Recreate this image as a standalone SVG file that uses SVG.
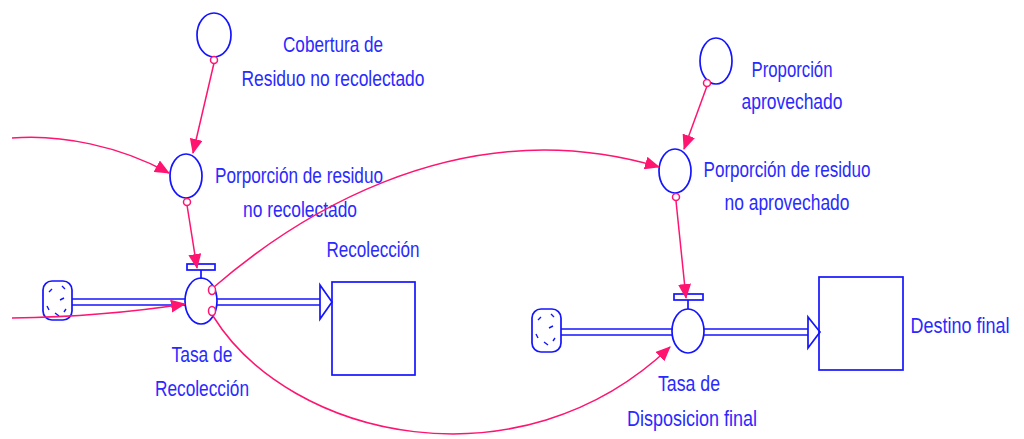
<svg xmlns="http://www.w3.org/2000/svg" width="1024" height="439" viewBox="0 0 1024 439">
<style>
.t{font-family:"Liberation Sans",Arial,sans-serif;font-size:22px;fill:#2a2aff;text-anchor:middle}
.b{fill:none;stroke:#1414ff;stroke-width:1.7}
.bw{fill:#fff;stroke:#1414ff;stroke-width:1.7}
.c{fill:none;stroke:#ff1470;stroke-width:1.5}
.o{fill:#fff;stroke:#ff1470;stroke-width:1.5}
.cl{fill:#fff;stroke:#1414ff;stroke-width:1.7}
.cd{fill:none;stroke:#1414ff;stroke-width:1.4}
</style>
<defs>
<marker id="ah" markerUnits="userSpaceOnUse" markerWidth="15" markerHeight="13" viewBox="0 0 15 13" refX="14" refY="6.5" orient="auto">
<path d="M0,0 L15,6.5 L0,13 Z" fill="#ff1470"/>
</marker>
</defs>
<rect width="1024" height="439" fill="#fff"/>

<g id="flows">
<line class="b" x1="72" y1="299" x2="185" y2="299"/>
<line class="b" x1="72" y1="305" x2="185" y2="305"/>
<line class="b" x1="217" y1="299" x2="321" y2="299"/>
<line class="b" x1="217" y1="305" x2="321" y2="305"/>
<path class="bw" d="M320,285 L332,302 L320,319 Z"/>
<line class="b" x1="561" y1="329" x2="673" y2="329"/>
<line class="b" x1="561" y1="335" x2="673" y2="335"/>
<line class="b" x1="704" y1="329" x2="809" y2="329"/>
<line class="b" x1="704" y1="335" x2="809" y2="335"/>
<path class="bw" d="M808,317 L820,332 L808,348 Z"/>
</g>

<g id="cloud1">
<rect class="cl" x="43" y="281" width="29" height="39" rx="9"/>
<path class="cd" d="M49,292 l3,-3 M62,286 l3,3 M47,306 l2,4 M60,300 l4,-2 M55,313 l4,3 M66,309 l-2,3"/>
</g>
<g id="cloud2">
<rect class="cl" x="532" y="309" width="29" height="43" rx="9"/>
<path class="cd" d="M538,320 l3,-3 M551,314 l3,3 M536,334 l2,4 M549,328 l4,-2 M544,342 l4,3 M555,338 l-2,3"/>
</g>

<g id="cobertura">
<ellipse class="b" cx="214" cy="35" rx="17" ry="22"/>
<text class="t" x="333" y="52" textLength="100" lengthAdjust="spacingAndGlyphs">Cobertura de</text>
<text class="t" x="333" y="86" textLength="183" lengthAdjust="spacingAndGlyphs">Residuo no recolectado</text>
</g>

<g id="porporcion-no-recolectado">
<ellipse class="b" cx="186" cy="176" rx="16" ry="22"/>
<text class="t" x="299" y="183" textLength="168" lengthAdjust="spacingAndGlyphs">Porporción de residuo</text>
<text class="t" x="300" y="217" textLength="114" lengthAdjust="spacingAndGlyphs">no recolectado</text>
</g>

<g id="tasa-recoleccion">
<rect class="b" x="187" y="264" width="28" height="6"/>
<line class="b" x1="201" y1="270" x2="201" y2="279"/>
<ellipse class="b" cx="201" cy="301" rx="16" ry="23"/>
<text class="t" x="202" y="362" textLength="61" lengthAdjust="spacingAndGlyphs">Tasa de</text>
<text class="t" x="202" y="396" textLength="94" lengthAdjust="spacingAndGlyphs">Recolección</text>
</g>

<g id="recoleccion">
<rect class="b" x="332" y="282" width="83" height="93"/>
<text class="t" x="373" y="257" textLength="93" lengthAdjust="spacingAndGlyphs">Recolección</text>
</g>

<g id="proporcion-aprovechado">
<ellipse class="b" cx="716" cy="61" rx="16" ry="23"/>
<text class="t" x="792" y="77" textLength="81" lengthAdjust="spacingAndGlyphs">Proporción</text>
<text class="t" x="792" y="109" textLength="101" lengthAdjust="spacingAndGlyphs">aprovechado</text>
</g>

<g id="porporcion-no-aprovechado">
<ellipse class="b" cx="675" cy="171" rx="16" ry="22"/>
<text class="t" x="787" y="177" textLength="167" lengthAdjust="spacingAndGlyphs">Porporción de residuo</text>
<text class="t" x="787" y="210" textLength="125" lengthAdjust="spacingAndGlyphs">no aprovechado</text>
</g>

<g id="tasa-disposicion">
<rect class="b" x="674" y="294" width="29" height="6"/>
<line class="b" x1="688" y1="300" x2="688" y2="309"/>
<ellipse class="b" cx="688" cy="331" rx="16" ry="22"/>
<text class="t" x="689" y="391" textLength="62" lengthAdjust="spacingAndGlyphs">Tasa de</text>
<text class="t" x="692" y="426" textLength="130" lengthAdjust="spacingAndGlyphs">Disposicion final</text>
</g>

<g id="destino-final">
<rect class="b" x="819" y="277" width="84" height="93"/>
<text class="t" transform="translate(960,333) scale(1,1.2)" x="0" y="0" style="font-size:18px">Destino final</text>
</g>

<g id="connectors">
<path class="c" d="M214,63 L193,153" marker-end="url(#ah)"/>
<path class="c" d="M12,138 C60,134 120,146 169,173" marker-end="url(#ah)"/>
<path class="c" d="M187,205 L197,268" marker-end="url(#ah)"/>
<path class="c" d="M12,318 C80,317 140,311 185,304" marker-end="url(#ah)"/>
<path class="c" d="M214,287 C280,230 450,105 659,167" marker-end="url(#ah)"/>
<path class="c" d="M213,316 C290,440 520,490 670,347" marker-end="url(#ah)"/>
<path class="c" d="M707,86 L684,149" marker-end="url(#ah)"/>
<path class="c" d="M676,201 L686,298" marker-end="url(#ah)"/>
<circle class="o" cx="214" cy="60" r="3.5"/>
<circle class="o" cx="187" cy="202" r="3.5"/>
<ellipse class="o" cx="212" cy="290" rx="3.5" ry="4.5"/>
<ellipse class="o" cx="212" cy="311" rx="3.5" ry="4.5"/>
<circle class="o" cx="707" cy="83" r="3.5"/>
<circle class="o" cx="676" cy="197" r="3.5"/>
</g>
</svg>
